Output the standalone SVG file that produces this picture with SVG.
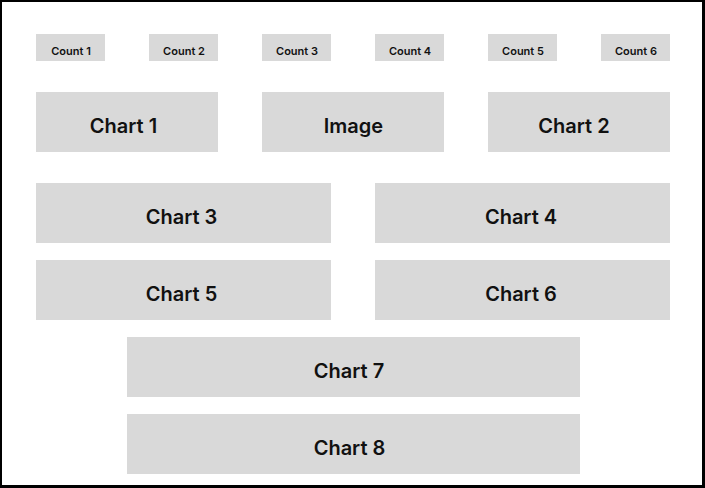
<svg xmlns="http://www.w3.org/2000/svg" width="705" height="488" viewBox="0 0 705 488">
<style>
.box{fill:#d9d9d9}
.big{font-family:Inter,"Liberation Sans",sans-serif;font-size:20px;font-weight:600;fill:#111;text-anchor:middle}
.small{font-family:Inter,"Liberation Sans",sans-serif;font-size:11px;font-weight:600;fill:#111;text-anchor:middle}
</style>
<rect x="0" y="0" width="705" height="488" fill="#fff"/>
<path d="M0 0H705V488H0Z M2 2V485H702V2Z" fill="#000" fill-rule="evenodd"/>
<g id="count1"><rect class="box" x="36" y="34" width="69" height="27"/><text class="small" x="71" y="55">Count 1</text></g>
<g id="count2"><rect class="box" x="149" y="34" width="69" height="27"/><text class="small" x="184" y="55">Count 2</text></g>
<g id="count3"><rect class="box" x="262" y="34" width="69" height="27"/><text class="small" x="297" y="55">Count 3</text></g>
<g id="count4"><rect class="box" x="375" y="34" width="69" height="27"/><text class="small" x="410" y="55">Count 4</text></g>
<g id="count5"><rect class="box" x="488" y="34" width="69" height="27"/><text class="small" x="523" y="55">Count 5</text></g>
<g id="count6"><rect class="box" x="601" y="34" width="69" height="27"/><text class="small" x="636" y="55">Count 6</text></g>
<g id="chart1"><rect class="box" x="36" y="92" width="182" height="60"/><text class="big" x="123.5" y="132.5">Chart 1</text></g>
<g id="image"><rect class="box" x="262" y="92" width="182" height="60"/><text class="big" x="353.5" y="132.5">Image</text></g>
<g id="chart2"><rect class="box" x="488" y="92" width="182" height="60"/><text class="big" x="574" y="132.5">Chart 2</text></g>
<g id="chart3"><rect class="box" x="36" y="183" width="295" height="60"/><text class="big" x="181.5" y="224">Chart 3</text></g>
<g id="chart4"><rect class="box" x="375" y="183" width="295" height="60"/><text class="big" x="521" y="224">Chart 4</text></g>
<g id="chart5"><rect class="box" x="36" y="260" width="295" height="60"/><text class="big" x="181.5" y="301">Chart 5</text></g>
<g id="chart6"><rect class="box" x="375" y="260" width="295" height="60"/><text class="big" x="521" y="301">Chart 6</text></g>
<g id="chart7"><rect class="box" x="127" y="337" width="453" height="60"/><text class="big" x="349" y="377.5">Chart 7</text></g>
<g id="chart8"><rect class="box" x="127" y="414" width="453" height="60"/><text class="big" x="349.5" y="454.5">Chart 8</text></g>
<g id="connectors"></g>
</svg>
